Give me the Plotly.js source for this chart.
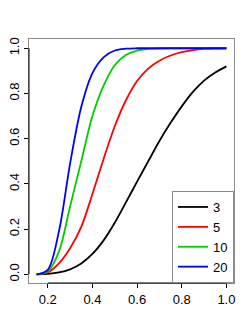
<!DOCTYPE html>
<html>
<head>
<meta charset="utf-8">
<script src="https://cdn.plot.ly/plotly-3.0.1.min.js"></script>
<style>html,body{margin:0;padding:0;background:#fff;}#chart{width:249px;height:332px;}</style>
</head>
<body>
<div id="chart"></div>
<script>
var xVals = [0.15, 0.20, 0.25, 0.30, 0.35, 0.40, 0.45, 0.50, 0.55, 0.60, 0.65, 0.70, 0.75, 0.80, 0.85, 0.90, 0.95, 1.00];
var seriesNames = ["3", "5", "10", "20"];
var seriesColors = ["#000000", "#FF0000", "#00CD00", "#0000FF"];
var y3  = [0, 0.002, 0.008, 0.022, 0.048, 0.09, 0.15, 0.228, 0.318, 0.41, 0.50, 0.59, 0.67, 0.743, 0.807, 0.857, 0.893, 0.92];
var y5  = [0, 0.008, 0.048, 0.115, 0.21, 0.355, 0.51, 0.655, 0.77, 0.855, 0.91, 0.945, 0.968, 0.983, 0.992, 0.997, 0.999, 1.0];
var y10 = [0, 0.012, 0.10, 0.30, 0.50, 0.70, 0.835, 0.925, 0.97, 0.99, 0.997, 0.999, 1.0, 1.0, 1.0, 1.0, 1.0, 1.0];
var y20 = [0, 0.02, 0.19, 0.49, 0.74, 0.89, 0.96, 0.99, 0.998, 1.0, 1.0, 1.0, 1.0, 1.0, 1.0, 1.0, 1.0, 1.0];
var xTicks = [0.2, 0.4, 0.6, 0.8, 1.0];
var xTickText = ["0.2", "0.4", "0.6", "0.8", "1.0"];
var yTicks = [0, 0.2, 0.4, 0.6, 0.8, 1.0];
var yTickText = ["0.0", "0.2", "0.4", "0.6", "0.8", "1.0"];

var ys = [y3, y5, y10, y20];
var traces = ys.map(function (y, i) {
  return {
    x: xVals, y: y, type: "scatter", mode: "lines", name: seriesNames[i],
    line: {color: seriesColors[i], width: 1.8, shape: "spline", smoothing: 0.9}
  };
});

var fnt = {family: "Liberation Sans Narrow, Liberation Sans, Arial, sans-serif", size: 13, color: "#000"};
var layout = {
  width: 249, height: 332,
  margin: {l: 29, r: 15, t: 39, b: 49, pad: 0},
  paper_bgcolor: "#fff", plot_bgcolor: "#fff",
  showlegend: true,
  font: fnt,
  xaxis: {
    range: [0.116, 1.034], tickvals: xTicks, ticktext: xTickText,
    showgrid: false, zeroline: false, showline: true, mirror: true, linecolor: "#8c8c8c", linewidth: 1,
    ticks: "outside", ticklen: 4, tickcolor: "#000", tickfont: fnt
  },
  yaxis: {
    range: [-0.0385, 1.041], tickvals: yTicks, ticktext: yTickText, tickangle: -90,
    showgrid: false, zeroline: false, showline: true, mirror: true, linecolor: "#8c8c8c", linewidth: 1,
    ticks: "outside", ticklen: 4, tickcolor: "#000", tickfont: fnt
  },
  legend: {
    x: 1, y: 0, xanchor: "right", yanchor: "bottom",
    bordercolor: "#8c8c8c", borderwidth: 1, bgcolor: "#fff",
    font: fnt, itemwidth: 30, tracegroupgap: 0
  },
  shapes: [
    {type: "line", xref: "x", yref: "paper", x0: xTicks[0], x1: xTicks[xTicks.length - 1], y0: 0, y1: 0, line: {color: "#000", width: 1}},
    {type: "line", xref: "paper", yref: "y", x0: 0, x1: 0, y0: yTicks[0], y1: yTicks[yTicks.length - 1], line: {color: "#000", width: 1}}
  ]
};
Plotly.newPlot("chart", traces, layout, {displayModeBar: false, staticPlot: true});
</script>
</body>
</html>
